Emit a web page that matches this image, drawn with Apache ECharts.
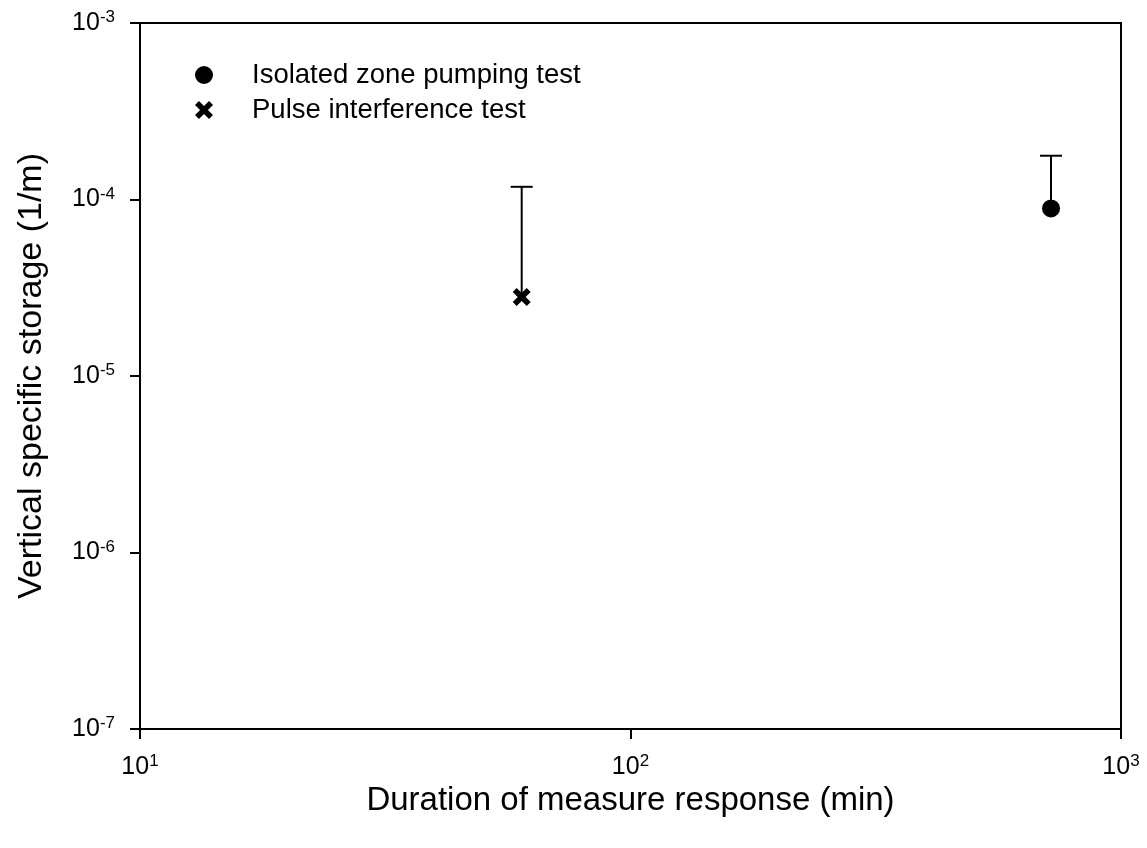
<!DOCTYPE html>
<html>
<head>
<meta charset="utf-8">
<script src="https://cdn.jsdelivr.net/npm/echarts@6/dist/echarts.min.js"></script>
<style>
html,body{margin:0;padding:0;background:#fff;}
#chart{width:1147px;height:848px;}
</style>
</head>
<body>
<div id="chart"></div>
<script>
// Data
const isolatedName = 'Isolated zone pumping test';
const pulseName = 'Pulse interference test';
const isolatedPoints = [[720, 8.9e-5]];
const pulsePoints = [[60, 2.8e-5]];
// error bars: [x, value, upper]
const isolatedErr = [[720, 8.9e-5, 1.77e-4]];
const pulseErr = [[60, 2.8e-5, 1.18e-4]];
const xTitle = 'Duration of measure response (min)';
const yTitle = 'Vertical specific storage (1/m)';

const FONT = 'Liberation Sans, Arial, sans-serif';
const crossPath = 'path://M0,2.2 L2.2,0 L5,2.8 L7.8,0 L10,2.2 L7.2,5 L10,7.8 L7.8,10 L5,7.2 L2.2,10 L0,7.8 L2.8,5 Z';

function powLabel(v) {
  const e = Math.round(Math.log10(v));
  return '{b|10}{s|' + e + '}';
}
const labelRich = {
  b: {fontSize: 25, fontFamily: FONT, color: '#000', lineHeight: 28},
  s: {fontSize: 17, fontFamily: FONT, color: '#000', verticalAlign: 'top', lineHeight: 28, padding: [0, 0, 10, 0]}
};

function errRender(params, api) {
  const x = api.value(0);
  const p0 = api.coord([x, api.value(1)]);
  const p1 = api.coord([x, api.value(2)]);
  const half = 11;
  return {
    type: 'group',
    children: [
      {type: 'line', shape: {x1: p0[0], y1: p0[1], x2: p1[0], y2: p1[1]}, style: {stroke: '#000', lineWidth: 2}},
      {type: 'line', shape: {x1: p1[0] - half, y1: p1[1], x2: p1[0] + half, y2: p1[1]}, style: {stroke: '#000', lineWidth: 2}}
    ]
  };
}

const chart = echarts.init(document.getElementById('chart'));
chart.setOption({
  animation: false,
  backgroundColor: '#fff',
  grid: {left: 140, right: 26, top: 23, bottom: 119, show: true, borderColor: '#000', borderWidth: 2, backgroundColor: 'transparent'},
  legend: {
    left: 190, top: 56, orient: 'vertical', itemGap: 7, itemWidth: 18, itemHeight: 18,
    data: [
      {name: isolatedName, icon: 'circle', itemStyle: {color: '#000', opacity: 1}},
      {name: pulseName, icon: crossPath, itemStyle: {color: '#000', opacity: 1}}
    ],
    textStyle: {fontSize: 27.5, lineHeight: 27, fontFamily: FONT, color: '#000', padding: [0, 0, 0, 34]},
    selectedMode: false
  },
  xAxis: {
    type: 'log', logBase: 10, min: 10, max: 1000,
    name: xTitle, nameLocation: 'middle', nameGap: 53,
    nameTextStyle: {fontSize: 33, fontFamily: FONT, color: '#000'},
    axisLine: {show: true, lineStyle: {color: '#000', width: 2}},
    axisTick: {show: true, length: 10, inside: false, lineStyle: {color: '#000', width: 2}},
    minorTick: {show: false},
    splitLine: {show: false},
    axisLabel: {formatter: powLabel, rich: labelRich, fontSize: 25, fontFamily: FONT, color: '#000', margin: 24}
  },
  yAxis: {
    type: 'log', logBase: 10, min: 1e-7, max: 1e-3,
    name: yTitle, nameLocation: 'middle', nameGap: 91,
    nameTextStyle: {fontSize: 34, fontFamily: FONT, color: '#000'},
    axisLine: {show: true, lineStyle: {color: '#000', width: 2}},
    axisTick: {show: true, length: 10, inside: false, lineStyle: {color: '#000', width: 2}},
    splitLine: {show: false},
    axisLabel: {formatter: powLabel, rich: labelRich, fontSize: 25, fontFamily: FONT, color: '#000', margin: 25}
  },
  series: [
    {name: isolatedName + ' err', type: 'custom', renderItem: errRender, data: isolatedErr, silent: true, z: 1},
    {name: pulseName + ' err', type: 'custom', renderItem: errRender, data: pulseErr, silent: true, z: 1},
    {name: isolatedName, type: 'scatter', data: isolatedPoints, symbol: 'circle', symbolSize: 18, itemStyle: {color: '#000', opacity: 1}, z: 3},
    {name: pulseName, type: 'scatter', data: pulsePoints, symbol: crossPath, symbolSize: 18, itemStyle: {color: '#000', opacity: 1}, z: 3}
  ]
});
</script>
</body>
</html>
